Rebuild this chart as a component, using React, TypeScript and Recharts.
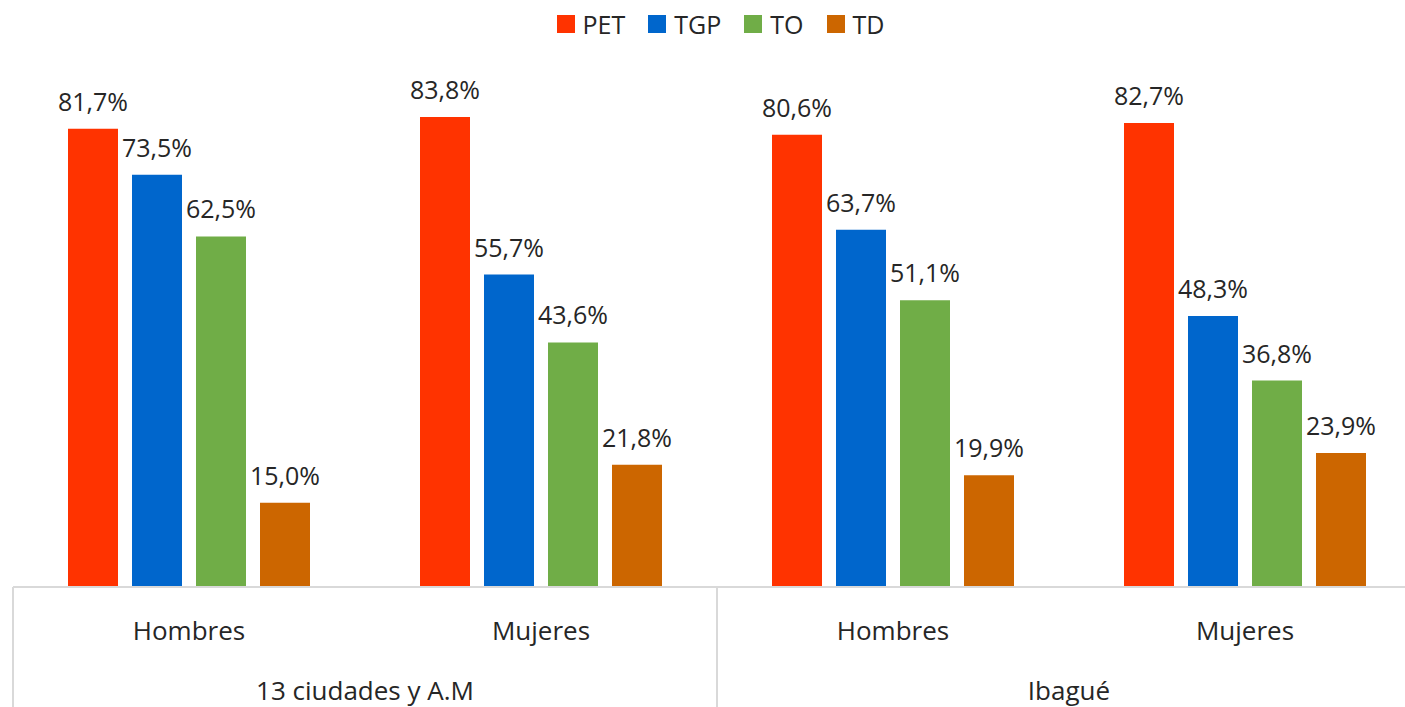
import React from 'react';
import { BarChart, Bar, XAxis, YAxis, Legend, LabelList } from 'recharts';

const categories = ['Hombres', 'Mujeres', 'Hombres', 'Mujeres'];
const groups = ['13 ciudades y A.M', '13 ciudades y A.M', 'Ibagué', 'Ibagué'];
const PET = [81.7, 83.8, 80.6, 82.7];
const TGP = [73.5, 55.7, 63.7, 48.3];
const TO = [62.5, 43.6, 51.1, 36.8];
const TD = [15.0, 21.8, 19.9, 23.9];

const seriesNames = ['PET', 'TGP', 'TO', 'TD'];
const seriesColors = ['#FF3300', '#0066CC', '#70AD47', '#CC6600'];

const data = categories.map((c, i) => ({
  sub: c,
  group: groups[i],
  PET: PET[i],
  TGP: TGP[i],
  TO: TO[i],
  TD: TD[i],
}));

const WIDTH = 1405;
const HEIGHT = 707;
const MARGIN = { top: 26, right: -16, bottom: 0, left: 13 };
const AX1_H = 59;
const AX2_H = 61;
const PLOT_BOTTOM = HEIGHT - MARGIN.bottom - AX1_H - AX2_H;
const PLOT_W = WIDTH - MARGIN.left - MARGIN.right;
const FONT = '"Open Sans", sans-serif';
const TEXT = '#262626';
const GRID = '#d9d9d9';

const fmt = (v: any) => Number(v).toFixed(1).replace('.', ',') + '%';

const SubTick = (props: any) => {
  const { x, y, payload } = props;
  return (
    <text x={x} y={y} dy="0.71em" textAnchor="middle" fill={TEXT} fontSize={26} fontFamily={FONT}>
      {payload.value}
    </text>
  );
};

const GroupTick = (props: any) => {
  const { x, y, payload } = props;
  const half = payload && payload.offset ? payload.offset : PLOT_W / 4;
  const lx = x - half;
  const rx = x + half;
  return (
    <g>
      <line x1={lx} x2={lx} y1={PLOT_BOTTOM} y2={HEIGHT} stroke={GRID} strokeWidth={2} />
      <line x1={rx} x2={rx} y1={PLOT_BOTTOM} y2={HEIGHT} stroke={GRID} strokeWidth={2} />
      <text x={x} y={y} dy="0.71em" textAnchor="middle" fill={TEXT} fontSize={26} fontFamily={FONT}>
        {payload.value}
      </text>
    </g>
  );
};

const LegendContent = () => (
  <div
    style={{
      display: 'flex',
      justifyContent: 'center',
      alignItems: 'center',
      height: 40,
      paddingLeft: 36,
      boxSizing: 'border-box',
      width: WIDTH,
      fontFamily: FONT,
      fontSize: 25,
      color: TEXT,
    }}
  >
    {seriesNames.map((n, i) => (
      <div key={n} style={{ display: 'flex', alignItems: 'center', marginRight: i < seriesNames.length - 1 ? 23 : 0 }}>
        <span style={{ display: 'inline-block', width: 18, height: 18, background: seriesColors[i], marginRight: 8 }} />
        <span>{n}</span>
      </div>
    ))}
  </div>
);

export default function App() {
  return (
    <div style={{ position: 'absolute', left: 0, top: 0, width: WIDTH, height: HEIGHT, background: '#fff', overflow: 'hidden' }}>
      <BarChart width={WIDTH} height={HEIGHT} data={data} margin={MARGIN} barSize={50} barGap={14}>
        <XAxis
          dataKey="sub"
          height={AX1_H}
          tickLine={false}
          axisLine={{ stroke: GRID, strokeWidth: 2 }}
          tick={<SubTick />}
          tickMargin={29}
          interval={0}
        />
        <XAxis
          xAxisId="group"
          dataKey="group"
          allowDuplicatedCategory={false}
          height={AX2_H}
          tickLine={false}
          axisLine={false}
          tick={<GroupTick />}
          tickMargin={30}
          interval={0}
        />
        <YAxis hide domain={[0, 100]} />
        <Legend
          verticalAlign="top"
          content={<LegendContent />}
          wrapperStyle={{ top: 4, left: 0, width: WIDTH, height: 0, overflow: 'visible' }}
        />
        {seriesNames.map((n, i) => (
          <Bar key={n} dataKey={n} fill={seriesColors[i]} isAnimationActive={false}>
            <LabelList
              dataKey={n}
              position="top"
              offset={18}
              fill={TEXT}
              fontSize={25}
              fontFamily={FONT}
              formatter={fmt}
            />
          </Bar>
        ))}
      </BarChart>
    </div>
  );
}
